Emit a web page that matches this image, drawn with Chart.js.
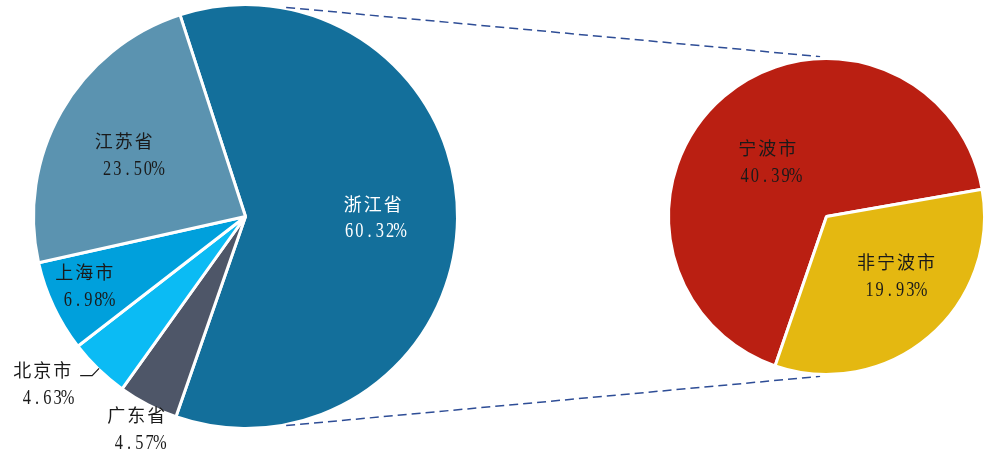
<!DOCTYPE html>
<html>
<head>
<meta charset="utf-8">
<script src="https://cdn.jsdelivr.net/npm/chart.js@4.4.1/dist/chart.umd.min.js"></script>
<style>
  html, body { margin: 0; padding: 0; background: #ffffff; }
  #wrap { position: relative; width: 987px; height: 452px; }
  #wrap canvas { position: absolute; left: 0; top: 0; }
</style>
</head>
<body>
<div id="wrap">
  <canvas id="provinces" width="987" height="452"></canvas>
  <canvas id="zhejiang" width="987" height="452"></canvas>
</div>
<script>
// Share by province (%)
const provinceNames = ['浙江省', '广东省', '北京市', '上海市', '江苏省'];
const provinceShares = [60.32, 4.57, 4.63, 6.98, 23.50];

// Breakdown of the 浙江省 share (%)
const cityNames = ['宁波市', '非宁波市'];
const cityShares = [40.39, 19.93];

// ---- styling ----
const provinceColors = ['#136F9B', '#4E5668', '#0BBBF4', '#00A0DC', '#5B93B0'];
const cityColors = ['#BA1F12', '#E4B811'];
const provinceTextColors = ['#ffffff', '#1a1a1a', '#1a1a1a', '#1a1a1a', '#1a1a1a'];
const cityTextColors = ['#1a1a1a', '#1a1a1a'];
// label distance from centre (fraction of radius) and pixel nudges
const provinceLabelDist = [0.60, 1.13, 1.13, 0.83, 0.64];
const provinceLabelNudge = [[0, 0], [1, 0], [-37, -5], [-2, -5], [-4, 6]];
const provinceLine2Shift = [2, 3, 5, 4, 9];
const cityLabelDist = [0.51, 0.58];
const cityLabelNudge = [[-7, 7], [10, -10]];
const cityLine2Shift = [3, -1];
const leaderIndex = 2; // 北京市 gets a leader line

const CJK_FONT = '18px "Noto Sans CJK SC", sans-serif';
const NUM_FONT = '21px "Liberation Serif", serif';

function drawCells(ctx, text, cx, cy, pitch, font, scaleX, color) {
  const chars = [...text];
  const start = cx - pitch * chars.length / 2 + pitch / 2;
  ctx.save();
  ctx.font = font;
  ctx.fillStyle = color;
  ctx.textAlign = 'center';
  ctx.textBaseline = 'middle';
  chars.forEach((ch, i) => {
    ctx.save();
    ctx.translate(start + i * pitch, cy);
    ctx.scale(scaleX, 1);
    ctx.fillText(ch, 0, 0);
    ctx.restore();
  });
  ctx.restore();
}

function sliceLabels(names, values, dist, nudge, shift, colors, leader) {
  return {
    id: 'sliceLabels',
    afterDatasetsDraw(chart) {
      const ctx = chart.ctx;
      const arcs = chart.getDatasetMeta(0).data;
      arcs.forEach((arc, i) => {
        const mid = (arc.startAngle + arc.endAngle) / 2;
        const r = arc.outerRadius * dist[i];
        const x = arc.x + Math.cos(mid) * r + nudge[i][0];
        const y = arc.y + Math.sin(mid) * r + nudge[i][1];
        drawCells(ctx, names[i], x, y - 14, 20, CJK_FONT, 1, colors[i]);
        drawCells(ctx, values[i].toFixed(2) + '%', x + shift[i], y + 14, 10.2, NUM_FONT, 0.78, colors[i]);
        if (leader === i) {
          const p0x = arc.x + Math.cos(mid) * (arc.outerRadius - 1);
          const p0y = arc.y + Math.sin(mid) * (arc.outerRadius - 1);
          const p1x = arc.x + Math.cos(mid) * (arc.outerRadius + 9);
          const p1y = arc.y + Math.sin(mid) * (arc.outerRadius + 9);
          ctx.save();
          ctx.strokeStyle = '#1a1a1a';
          ctx.lineWidth = 1.2;
          ctx.beginPath();
          ctx.moveTo(p0x, p0y);
          ctx.lineTo(p1x, p1y);
          ctx.lineTo(p1x - 12, p1y);
          ctx.stroke();
          ctx.restore();
        }
      });
    }
  };
}

// dashed connectors from the 浙江省 slice to the breakdown pie
const connectors = {
  id: 'connectors',
  beforeDatasetsDraw(chart) {
    const left = Chart.getChart('provinces');
    if (!left) return;
    const la = left.getDatasetMeta(0).data[0];
    const ra = chart.getDatasetMeta(0).data[0];
    const a1 = 11 * Math.PI / 180, a2 = 2.3 * Math.PI / 180;
    const ctx = chart.ctx;
    ctx.save();
    ctx.strokeStyle = '#2E4D96';
    ctx.lineWidth = 1.5;
    ctx.setLineDash([9, 5]);
    [-1, 1].forEach(s => {
      const lr = la.outerRadius + 1, rr = ra.outerRadius + 2;
      ctx.beginPath();
      ctx.moveTo(la.x + lr * Math.sin(a1), la.y + s * lr * Math.cos(a1));
      ctx.lineTo(ra.x - rr * Math.sin(a2), ra.y + s * rr * Math.cos(a2));
      ctx.stroke();
    });
    ctx.restore();
  }
};

const common = {
  responsive: false,
  animation: false,
  events: [],
  plugins: { legend: { display: false }, tooltip: { enabled: false } }
};

new Chart(document.getElementById('provinces'), {
  type: 'pie',
  data: {
    labels: provinceNames,
    datasets: [{
      data: provinceShares,
      backgroundColor: provinceColors,
      borderColor: '#ffffff',
      borderWidth: 3
    }]
  },
  options: Object.assign({}, common, {
    rotation: -18,
    layout: { padding: { left: 32, right: 528, top: 3, bottom: 22 } }
  }),
  plugins: [sliceLabels(provinceNames, provinceShares, provinceLabelDist, provinceLabelNudge,
                        provinceLine2Shift, provinceTextColors, leaderIndex)]
});

new Chart(document.getElementById('zhejiang'), {
  type: 'pie',
  data: {
    labels: cityNames,
    datasets: [{
      data: cityShares,
      backgroundColor: cityColors,
      borderColor: '#ffffff',
      borderWidth: 3
    }]
  },
  options: Object.assign({}, common, {
    rotation: 199,
    layout: { padding: { left: 667, right: 1, top: 57, bottom: 76 } }
  }),
  plugins: [connectors,
            sliceLabels(cityNames, cityShares, cityLabelDist, cityLabelNudge,
                        cityLine2Shift, cityTextColors, -1)]
});
</script>
</body>
</html>
